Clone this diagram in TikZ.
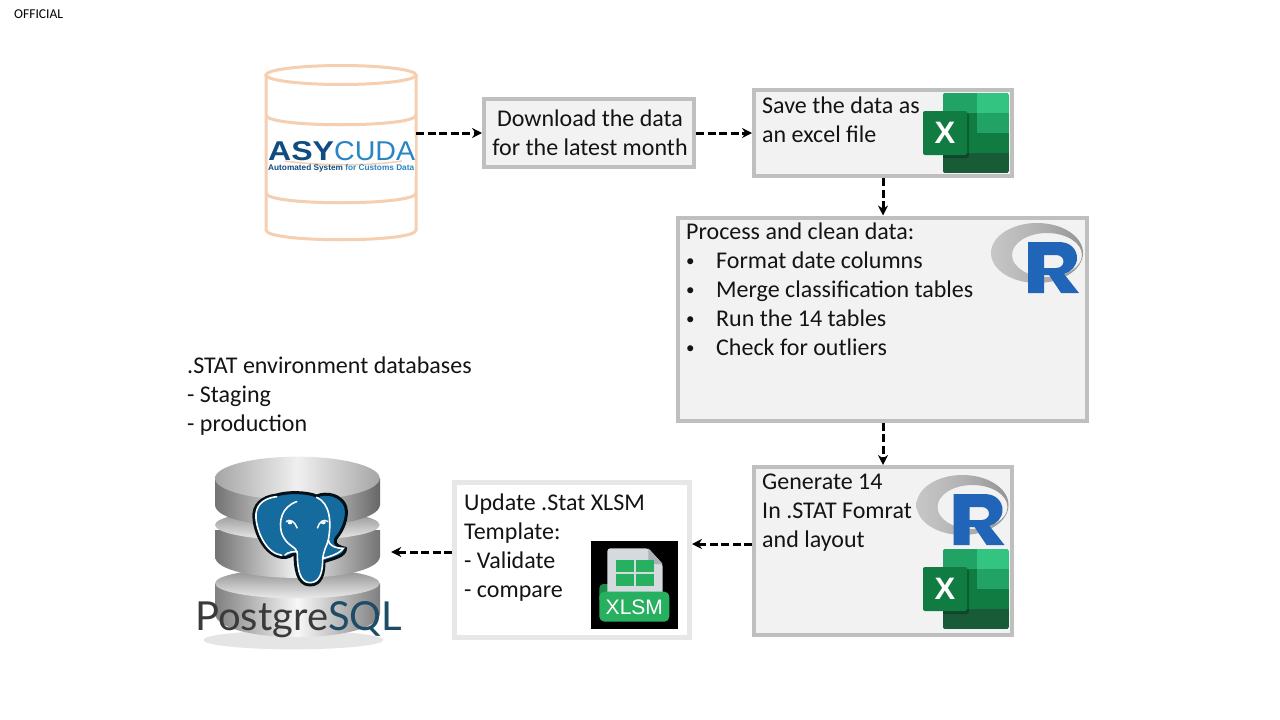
\documentclass[tikz,border=0pt]{standalone}
\usepackage{graphicx}
\usepackage{fontspec}
\setmainfont{Carlito}
\newfontfamily\logofont{Liberation Sans}
\newfontfamily\pgfont{Lato}
\usetikzlibrary{arrows.meta,calc}
\definecolor{boxfill}{HTML}{F2F2F2}
\definecolor{boxline}{HTML}{BFBFBF}
\definecolor{updline}{HTML}{E7E7E7}
\definecolor{cyl}{HTML}{F6CFB0}
\definecolor{pgblue}{HTML}{156A9E}
\definecolor{rblue}{HTML}{2165B8}
\definecolor{xlgreen}{HTML}{27B05F}
\tikzset{
  procbox/.style={draw=boxline,fill=boxfill,line width=4pt,minimum width=#1,inner sep=0pt},
  txt/.style={anchor=north west,inner sep=0pt,align=left,font=\fontsize{24}{29}\selectfont,text=black!92},
  flow/.style={draw=black,line width=3pt,dash pattern=on 8pt off 3.5pt,-{Stealth[length=10pt,width=10pt]}},
  cylline/.style={draw=cyl,line width=3pt},
}
\newcommand\st{\rule{0pt}{20pt}}
\newcommand\bitem{\makebox[30pt][l]{\fontsize{17}{17}\selectfont\raisebox{1.5pt}{•}}}
% Excel icon: local origin = top-left of sheet
\newcommand\excelicon[3]{%
\begin{scope}[shift={(#2,#3)}]
  \begin{scope}
    \clip[rounded corners=2pt] (0,0) rectangle (66,80);
    \fill[fill={rgb,255:red,33;green,163;blue,102}] (0,0) rectangle (34,20);
    \fill[fill={rgb,255:red,51;green,196;blue,129}] (34,0) rectangle (66,20);
    \fill[fill={rgb,255:red,33;green,163;blue,102}] (34,20) rectangle (66,40);
    \fill[fill={rgb,255:red,16;green,124;blue,65}] (0,20) rectangle (34,60);
    \fill[fill={rgb,255:red,16;green,124;blue,65}] (34,40) rectangle (66,60);
    \fill[fill={rgb,255:red,24;green,92;blue,55}] (0,60) rectangle (66,80);
    \fill[black,opacity=.25,rounded corners=2pt] (-20,20) rectangle (26,65);
  \end{scope}
  \fill[fill={rgb,255:red,16;green,124;blue,65},rounded corners=2pt] (-20,18) rectangle (24,62);
  \node[inner sep=0pt,text=white] (#1) at (2,40) {\logofont\bfseries\fontsize{31}{31}\selectfont X};
\end{scope}}
% R logo: local origin = top-left of grey ring
\newcommand\rlogo[3]{%
\begin{scope}[shift={(#2,#3)}]
  \shade[even odd rule,left color=black!22,right color=black!42,middle color=black!30]
    (46,30) ellipse (46 and 30) (56,32) ellipse (35 and 22);
  \fill[rblue,even odd rule]
    (37,19) -- (68,19) .. controls (80,19) and (86,27) .. (86,35)
    .. controls (86,43) and (80,49) .. (73,51) -- (88,70) -- (70,70) -- (58,52) -- (53,52) -- (53,70) -- (37,70) -- cycle
    (53,32) -- (53,45) -- (65,45) .. controls (75,45) and (75,32) .. (65,32) -- cycle;
  \coordinate (#1) at (46,30);
\end{scope}}
\begin{document}
\begin{tikzpicture}[x=1pt,y=-1pt]
\useasboundingbox (0,0) rectangle (1280,720);
\fill[white] (0,0) rectangle (1280,720);
\node[anchor=base west,inner sep=0pt,font=\fontsize{13.5}{14}\selectfont] (official) at (14,18) {OFFICIAL};

% ASYCUDA cylinder
\node[minimum width=150pt,minimum height=175pt,inner sep=0pt] (db) at (341,152.5) {};
\draw[cylline] (266,75) -- (266,230) .. controls (266,243) and (416,243) .. (416,230) -- (416,75);
\draw[cylline] (341,75) ellipse (75 and 9.5);
\draw[cylline] (266,115) .. controls (266,128) and (416,128) .. (416,115);
\draw[cylline] (266,193) .. controls (266,206) and (416,206) .. (416,193);
\fill[white] (268,137) rectangle (415,176);
\draw[draw=cyl,line width=1.5pt] (285,161) .. controls (320,166) and (370,166) .. (402,161);
\node[inner sep=0pt,anchor=base west] (asy) at (268,160.5) {\resizebox{147pt}{19pt}{\logofont\fontsize{26}{26}\selectfont\textcolor[HTML]{0F4C81}{\bfseries\scalebox{1.12}[1]{ASY}}\textcolor[HTML]{2A86C2}{CUDA}}};
\node[inner sep=0pt,anchor=base west] (asysub) at (268,170.5) {\resizebox{146pt}{!}{\logofont\bfseries\fontsize{8}{8}\selectfont\textcolor[HTML]{0F4C81}{Automated System }\textcolor[HTML]{2A86C2}{for Customs Data}}};

% Boxes
\node[procbox=210pt,minimum height=68pt] (dl) at (589,133) {};
\node[txt,align=center,anchor=north] (dltxt) at (590,106) {\st Download the data\\for the latest month};
\node[procbox=258pt,minimum height=86pt] (save) at (883,133) {};
\node[txt] (savetxt) at (762,93) {\st Save the data as\\an excel file};
\node[procbox=409pt,minimum height=203pt] (proc) at (882.5,319) {};
\node[txt] (proctxt) at (686,219) {\st Process and clean data:\\\bitem Format date columns\\\bitem Merge classification tables\\\bitem Run the 14 tables\\\bitem Check for outliers};
\node[procbox=258pt,minimum height=168pt] (gen) at (883,551) {};
\node[txt] (gentxt) at (762,469) {\st Generate 14\\In .STAT Fomrat\\and layout};
\node[draw=updline,fill=white,line width=5pt,minimum width=235pt,minimum height=155pt,inner sep=0pt] (upd) at (572,560) {};
\node[txt] (updtxt) at (464,490) {\st Update .Stat XLSM\\Template:\\- Validate\\- compare};
\node[txt] (stattxt) at (187,353) {\st .STAT environment databases\\- Staging\\- production};

% Icons
\excelicon{xa}{943}{93}
\rlogo{ra}{991}{223}
\rlogo{rb}{916.5}{475}
\excelicon{xb}{943}{549}

% XLSM icon
\fill[black] (591,541) rectangle (678,629);
\begin{scope}[shift={(580,460)},scale=1/3]
  \fill[fill={rgb,255:red,30;green,140;blue,75},rounded corners=4pt] (58,372) rectangle (100,430);
  \fill[fill={rgb,255:red,213;green,218;blue,223},rounded corners=3pt] (82,265) -- (205,265) -- (248,312) -- (248,410) -- (82,410) -- cycle;
  \fill[fill={rgb,255:red,170;green,178;blue,185}] (205,265) -- (205,312) -- (248,312) -- cycle;
  \fill[xlgreen] (107,300) rectangle (161,335);
  \fill[xlgreen] (168,300) rectangle (222,335);
  \fill[xlgreen] (107,342) rectangle (161,378);
  \fill[xlgreen] (168,342) rectangle (222,378);
  \fill[xlgreen,rounded corners=5pt] (58,395) rectangle (268,485);
  \node[inner sep=0pt,text=white] (xlsmlabel) at (163,441) {\logofont\fontsize{21}{21}\selectfont XLSM};
\end{scope}

% PostgreSQL icon
\node[minimum width=176pt,minimum height=170pt,inner sep=0pt] (pg) at (303,545) {};
\begin{scope}[shift={(180,450)},scale=1/3]
  \fill[black!10] (340,570) ellipse (270 and 28);
  % bottom disk
  \shade[left color=black!50,right color=black!50,middle color=black!3]
    (105,400) -- (105,490) .. controls (110,585) and (590,585) .. (600,490) -- (600,400) -- cycle;
  \shade[top color=black!45,bottom color=black!8] (352,400) ellipse (247 and 45);
  % middle disk
  \shade[left color=black!55,right color=black!55,middle color=black!5]
    (105,240) -- (105,320) .. controls (110,405) and (590,405) .. (600,320) -- (600,240) -- cycle;
  \shade[top color=black!45,bottom color=black!8] (352,225) ellipse (247 and 45);
  % top disk
  \shade[left color=black!55,right color=black!60,middle color=black!8]
    (105,85) -- (105,165) .. controls (110,250) and (590,250) .. (600,165) -- (600,85) -- cycle;
  \shade[left color=black!35,right color=black!35,middle color=black!6] (352,85) ellipse (247 and 65);
  % elephant
  \path[fill=pgblue,draw=black!85!pgblue,line width=3pt,line join=round]
    (290,135) .. controls (245,140) and (218,165) .. (222,205)
    .. controls (225,250) and (255,315) .. (305,322)
    .. controls (325,325) and (335,315) .. (345,310)
    .. controls (345,350) and (350,405) .. (390,405)
    .. controls (425,405) and (432,370) .. (432,335)
    .. controls (460,325) and (495,320) .. (497,295)
    .. controls (475,290) and (460,285) .. (468,265)
    .. controls (490,240) and (505,200) .. (497,170)
    .. controls (485,135) and (440,125) .. (410,138)
    .. controls (380,125) and (320,125) .. (290,135) -- cycle;
  \draw[white,line width=1.6pt,line cap=round]
    (410,142) .. controls (450,160) and (455,215) .. (445,270)
    .. controls (440,290) and (430,300) .. (428,330)
    .. controls (428,365) and (420,398) .. (390,398)
    .. controls (360,398) and (352,360) .. (352,310)
    .. controls (352,290) and (320,290) .. (305,250)
    .. controls (295,215) and (305,170) .. (350,155);
  \draw[white,line width=1.6pt,line cap=round]
    (290,140) .. controls (245,145) and (225,170) .. (228,205)
    .. controls (232,250) and (260,310) .. (305,316);
  \draw[white,line width=1.6pt,line cap=round]
    (445,270) .. controls (445,285) and (465,295) .. (490,295)
    .. controls (480,310) and (450,320) .. (430,325);
  \draw[white,line width=1.6pt,line cap=round]
    (315,315) .. controls (325,305) and (340,305) .. (352,305);
  \draw[white,line width=1.4pt] (318,215) .. controls (330,205) and (345,215) .. (352,235);
  \draw[white,line width=1.4pt] (412,235) .. controls (418,215) and (430,205) .. (445,215);
  \fill[white] (330,218) ellipse (7 and 5);
  \fill[white] (430,218) ellipse (7 and 5);
  \node[inner sep=0pt,anchor=base west] (pgname) at (45,540) {\resizebox{207pt}{!}{\pgfont\fontsize{32}{32}\selectfont\textcolor[HTML]{3A3A3A}{Postgre}\textcolor[HTML]{1E4C66}{SQL}}};
\end{scope}

% Connectors
\draw[flow] (db.east |- dl.west) -- (dl.west);
\draw[flow] (dl.east) -- (save.west);
\draw[flow] (save.south) -- (proc.north -| save.south);
\draw[flow] (proc.south -| gen.north) -- (gen.north);
\coordinate (genout) at ($(gen.west)+(0,-7)$);
\draw[flow] (genout) -- (upd.east |- genout);
\coordinate (updout) at ($(upd.west)+(0,-8)$);
\draw[flow] (updout) -- (pg.east |- updout);
\end{tikzpicture}
\end{document}
